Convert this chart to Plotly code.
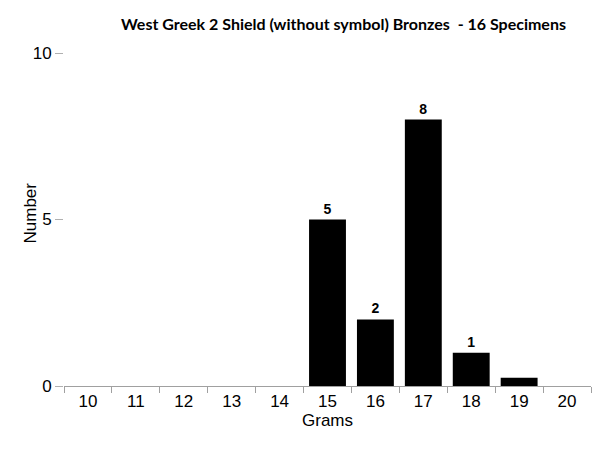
import plotly.graph_objects as go

categories = ["10", "11", "12", "13", "14", "15", "16", "17", "18", "19", "20"]
values = [0, 0, 0, 0, 0, 5, 2, 8, 1, 0.25, 0]
labels = ["", "", "", "", "", "5", "2", "8", "1", "", ""]
title_text = "West Greek 2 Shield (without symbol) Bronzes  - 16 Specimens"
x_title = "Grams"
y_title = "Number"

SANS = "Liberation Sans"
W, H = 592, 455

fig = go.Figure(go.Bar(
    x=categories, y=values, text=labels, textposition="outside",
    texttemplate="<b>%{text}</b>",
    textfont=dict(family=SANS, size=14, color="#000000"),
    marker=dict(color="#000000", line=dict(width=0)),
    cliponaxis=False,
))

fig.update_layout(
    width=W, height=H,
    margin=dict(l=56, r=9, t=45, b=77),
    plot_bgcolor="white", paper_bgcolor="white",
    bargap=0.23,
    showlegend=False,
    title=dict(text="<b>" + title_text + "</b>", x=335.5 / W, xanchor="center",
               y=1 - 16 / H, yanchor="middle",
               font=dict(family="Lato", size=16, color="#000000")),
    font=dict(family=SANS, size=17, color="#000000"),
    annotations=[dict(
        text=y_title, textangle=-90, xref="paper", yref="paper",
        x=0, y=0.5, xanchor="center", yanchor="middle",
        xshift=-34, yshift=6, showarrow=False,
        font=dict(family=SANS, size=17, color="#000000"),
    )],
)

fig.update_xaxes(
    type="category", showline=True, linecolor="#a0a0a0", linewidth=1,
    ticks="outside", tickson="boundaries", ticklen=6, tickcolor="#a0a0a0",
    showgrid=False, automargin=False,
    title=dict(text=x_title, standoff=1, font=dict(family=SANS, size=17)),
    tickfont=dict(family=SANS, size=17),
)
fig.update_yaxes(
    range=[0, 10], tickvals=[0, 5, 10], ticks="outside", ticklen=8, tickcolor="#b0b0b0",
    showline=False, showgrid=False, zeroline=False, automargin=False,
    tickfont=dict(family=SANS, size=17),
)

fig.write_html("out.html")
